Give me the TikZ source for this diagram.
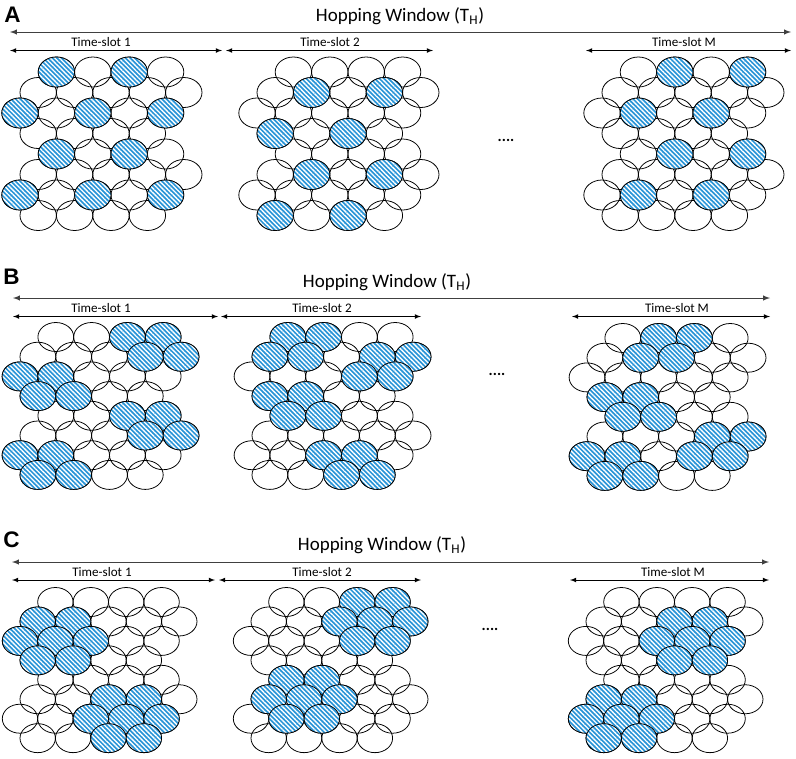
\documentclass[tikz,border=0pt]{standalone}
\usepackage{fontspec}
\setmainfont{Carlito}
\newfontfamily\panelfont{Liberation Sans}
\usetikzlibrary{patterns.meta}

\definecolor{hotblue}{RGB}{40,148,215}

\tikzset{
  cell/.style={draw=black, line width=0.55pt},
  hot/.style={draw=black, line width=0.55pt, preaction={fill=hotblue},
    pattern={Lines[angle=-45, distance=2.3pt, line width=0.95pt]}, pattern color=white},
  span/.style={<->, >=latex, line width=0.5pt},
  hop/.style={<->, >=latex, line width=0.7pt, draw=black!75},
  slotlabel/.style={font=\fontsize{9.3}{10}\selectfont},
  hoplabel/.style={font=\fontsize{13.5}{15}\selectfont},
  panel/.style={font=\panelfont\bfseries\fontsize{16}{18}\selectfont},
  gap/.style={font=\bfseries\fontsize{11}{12}\selectfont}
}

% x0, y0, half step, row step, y radius, hot cells (h/r)
\newcommand{\cellgrid}[6]{%
  \foreach \rw/\hl in {0/{2,4,6,8},1/{1,3,5,7,9},2/{0,2,4,6,8},3/{1,3,5,7},
                       4/{2,4,6,8},5/{1,3,5,7,9},6/{0,2,4,6,8},7/{1,3,5,7}}
    \foreach \hc in \hl
      \path[cell] ({#1+\hc*#3},{#2+\rw*#4}) ellipse [x radius=#3, y radius=#5];
  \foreach \hc/\rw in {#6}
    \path[hot] ({#1+\hc*#3},{#2+\rw*#4}) ellipse [x radius=#3, y radius=#5];
}

\begin{document}
\begin{tikzpicture}[x=0.025cm, y=-0.025cm]
\useasboundingbox (0,0) rectangle (796,758);

% A
\node[panel] (labA) at (12.5,15) {A};
\node[hoplabel] (hopA) at (400,16) {Hopping Window (T\textsubscript{H})};
\coordinate (hopA-l) at (10,32);
\coordinate (hopA-r) at (791,32);
\draw[hop] (hopA-l) -- (hopA-r);
\coordinate (sA1-l) at (10,50.5);
\coordinate (sA1-r) at (222,50.5);
\coordinate (sA2-l) at (226,50.5);
\coordinate (sA2-r) at (433,50.5);
\coordinate (sAM-l) at (586,50.5);
\coordinate (sAM-r) at (791,50.5);
\draw[span] (sA1-l) -- (sA1-r);
\draw[span] (sA2-l) -- (sA2-r);
\draw[span] (sAM-l) -- (sAM-r);
\node[slotlabel] (tA1) at (101,42) {Time-slot 1};
\node[slotlabel] (tA2) at (330,42) {Time-slot 2};
\node[slotlabel] (tAM) at (684,42) {Time-slot M};
\cellgrid{20}{72}{18.2}{20.5}{15}{2/0,6/0,0/2,4/2,8/2,2/4,6/4,0/6,4/6,8/6}
\cellgrid{257}{72}{18.2}{20.5}{15}{3/1,7/1,1/3,5/3,3/5,7/5,1/7,5/7}
\cellgrid{602}{72}{18.2}{20.5}{15}{4/0,8/0,2/2,6/2,4/4,8/4,2/6,6/6}
\node[gap] (gapA) at (506,140) {....};

% B
\node[panel] (labB) at (11.5,277) {B};
\node[hoplabel] (hopB) at (387,282) {Hopping Window (T\textsubscript{H})};
\coordinate (hopB-l) at (13,298);
\coordinate (hopB-r) at (770,298);
\draw[hop] (hopB-l) -- (hopB-r);
\coordinate (sB1-l) at (13,316.5);
\coordinate (sB1-r) at (218,316.5);
\coordinate (sB2-l) at (221,316.5);
\coordinate (sB2-r) at (421,316.5);
\coordinate (sBM-l) at (572,316.5);
\coordinate (sBM-r) at (770,316.5);
\draw[span] (sB1-l) -- (sB1-r);
\draw[span] (sB2-l) -- (sB2-r);
\draw[span] (sBM-l) -- (sBM-r);
\node[slotlabel] (tB1) at (101,308) {Time-slot 1};
\node[slotlabel] (tB2) at (322,308) {Time-slot 2};
\node[slotlabel] (tBM) at (677,308) {Time-slot M};
\cellgrid{20}{337}{17.9}{19.7}{14.5}{6/0,8/0,7/1,9/1,0/2,2/2,1/3,3/3,6/4,8/4,7/5,9/5,0/6,2/6,1/7,3/7}
\cellgrid{252}{337}{17.9}{19.7}{14.5}{2/0,4/0,1/1,3/1,7/1,9/1,6/2,8/2,1/3,3/3,2/4,4/4,4/6,6/6,5/7,7/7}
\cellgrid{587}{338}{17.9}{19.7}{14.5}{4/0,6/0,3/1,5/1,1/3,3/3,2/4,4/4,7/5,9/5,0/6,2/6,6/6,8/6,1/7,3/7}
\node[gap] (gapB) at (497,374) {....};

% C
\node[panel] (labC) at (11.5,540) {C};
\node[hoplabel] (hopC) at (382,545) {Hopping Window (T\textsubscript{H})};
\coordinate (hopC-l) at (12,562);
\coordinate (hopC-r) at (769,562);
\draw[hop] (hopC-l) -- (hopC-r);
\coordinate (sC1-l) at (12,580);
\coordinate (sC1-r) at (215,580);
\coordinate (sC2-l) at (219,580);
\coordinate (sC2-r) at (421,580);
\coordinate (sCM-l) at (570,580);
\coordinate (sCM-r) at (769,580);
\draw[span] (sC1-l) -- (sC1-r);
\draw[span] (sC2-l) -- (sC2-r);
\draw[span] (sCM-l) -- (sCM-r);
\node[slotlabel] (tC1) at (102,572) {Time-slot 1};
\node[slotlabel] (tC2) at (322,572) {Time-slot 2};
\node[slotlabel] (tCM) at (673,572) {Time-slot M};
\cellgrid{20}{602}{17.7}{19.45}{14.5}{1/1,3/1,0/2,2/2,4/2,1/3,3/3,5/5,7/5,4/6,6/6,8/6,5/7,7/7}
\cellgrid{251}{602}{17.7}{19.45}{14.5}{6/0,8/0,5/1,7/1,9/1,6/2,8/2,2/4,4/4,1/5,3/5,5/5,2/6,4/6}
\cellgrid{586}{602}{17.7}{19.45}{14.5}{5/1,7/1,4/2,6/2,8/2,5/3,7/3,1/5,3/5,0/6,2/6,4/6,1/7,3/7}
\node[gap] (gapC) at (490,629) {....};
\end{tikzpicture}
\end{document}
